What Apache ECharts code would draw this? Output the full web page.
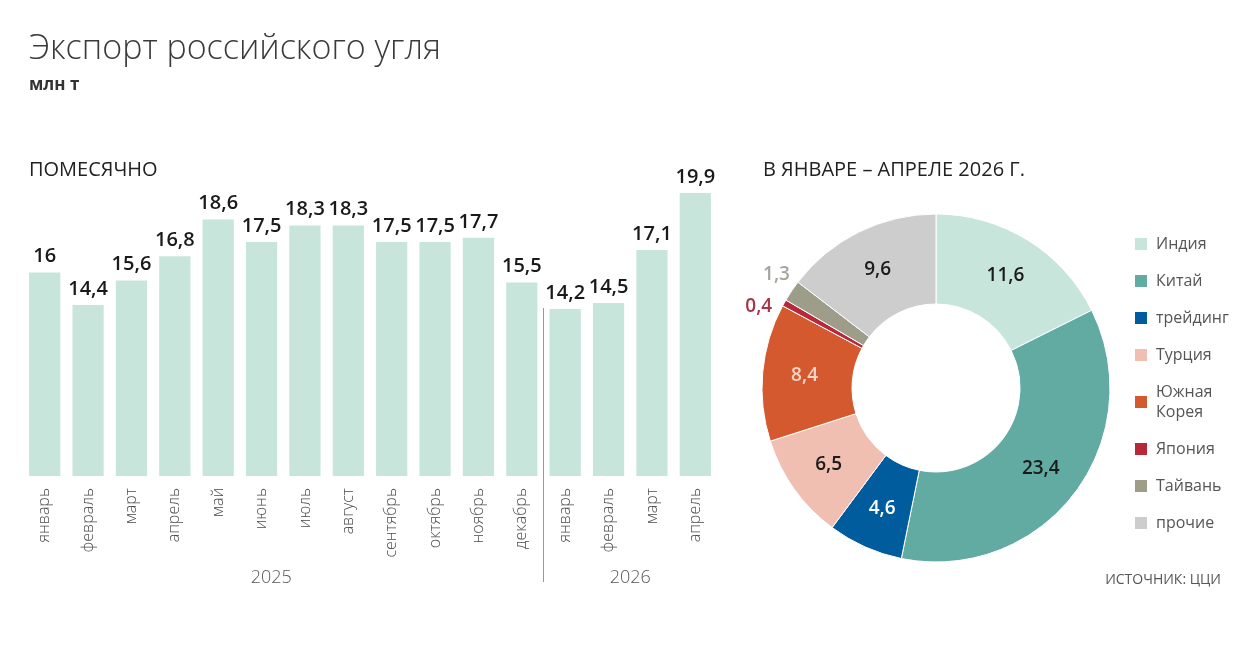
<!DOCTYPE html>
<html>
<head>
<meta charset="utf-8">
<script src="https://cdn.jsdelivr.net/npm/echarts@6/dist/echarts.min.js"></script>
<style>
  html, body { margin: 0; padding: 0; background: #fff; }
  #chart { width: 1250px; height: 650px; }
</style>
</head>
<body>
<div id="chart"></div>
<script>
// помесячный экспорт, млн т
const months = ['январь', 'февраль', 'март', 'апрель', 'май', 'июнь', 'июль', 'август',
  'сентябрь', 'октябрь', 'ноябрь', 'декабрь', 'январь', 'февраль', 'март', 'апрель']
const monthly = [16, 14.4, 15.6, 16.8, 18.6, 17.5, 18.3, 18.3, 17.5, 17.5, 17.7, 15.5, 14.2, 14.5, 17.1, 19.9]
const years = ['2025', '2026']

// структура по направлениям, январь-апрель 2026
const countries = ['Индия', 'Китай', 'трейдинг', 'Турция', 'Южная\nКорея', 'Япония', 'Тайвань', 'прочие']
const shares = [11.6, 23.4, 4.6, 6.5, 8.4, 0.4, 1.3, 9.6]
const colors = ['#c8e5db', '#62aba2', '#005c9c', '#f1beb2', '#d4592f', '#b7283a', '#9d9d89', '#cdcdcd']
const labelColors = ['#1a1a1a', '#1a1a1a', '#ffffff', '#1a1a1a', '#f7d6c8', '#a8344a', '#a5a5a0', '#1a1a1a']

const fmt = v => String(v).replace('.', ',')
const font = '"Open Sans", "Noto Sans", sans-serif'

let chart = echarts.init(document.getElementById('chart'))

let pieData = countries.map((name, i) => {
    let item = {
        name: name,
        value: shares[i],
        itemStyle: { color: colors[i] },
        label: { color: labelColors[i] }
    }
    if (shares[i] < 2) {
        item.label.position = 'outside'
    }
    return item
})

chart.setOption({
    textStyle: { fontFamily: font },
    title: [
        {
            text: 'Экспорт российского угля',
            left: 24, top: 27,
            textStyle: { fontSize: 34, fontWeight: 300, color: '#3a3a3a', fontFamily: font }
        },
        {
            text: 'млн т',
            left: 24, top: 72,
            textStyle: { fontSize: 17, fontWeight: 'bold', color: '#333', fontFamily: font }
        },
        {
            text: 'ПОМЕСЯЧНО',
            left: 24, top: 155,
            textStyle: { fontSize: 20, fontWeight: 500, color: '#222', fontFamily: font }
        },
        {
            text: 'В ЯНВАРЕ – АПРЕЛЕ 2026 Г.',
            left: 758, top: 155,
            textStyle: { fontSize: 20, fontWeight: 500, color: '#222', fontFamily: font }
        },
        {
            text: 'ИСТОЧНИК: ЦЦИ',
            right: 24, top: 568,
            textStyle: { fontSize: 14, fontWeight: 'normal', color: '#555', fontFamily: font }
        }
    ],
    grid: { left: 23, width: 694, top: 191, height: 285 },
    xAxis: {
        type: 'category',
        data: months,
        axisLine: { show: false },
        axisTick: { show: false },
        axisLabel: {
            rotate: 90,
            interval: 0,
            margin: 12,
            fontSize: 16,
            fontWeight: 300,
            color: '#4a4a4a',
            fontFamily: font
        }
    },
    yAxis: {
        type: 'value',
        min: 6,
        max: 20,
        show: false
    },
    legend: {
        orient: 'vertical',
        left: 1128,
        top: 229,
        icon: 'rect',
        itemWidth: 14,
        itemHeight: 14,
        itemGap: 17,
        selectedMode: false,
        textStyle: { fontSize: 16, color: '#555', fontFamily: font, lineHeight: 20, padding: [0, 0, 0, 3] },
        data: countries
    },
    series: [
        {
            type: 'bar',
            data: monthly,
            barCategoryGap: '28%',
            itemStyle: { color: '#c8e5db' },
            label: {
                show: true,
                position: 'top',
                distance: 6,
                formatter: p => fmt(p.value),
                fontSize: 20,
                fontWeight: 600,
                color: '#1a1a1a',
                fontFamily: font
            }
        },
        {
            type: 'pie',
            center: [936, 388],
            radius: [84, 174],
            startAngle: 90,
            clockwise: true,
            avoidLabelOverlap: false,
            itemStyle: { borderColor: '#fff', borderWidth: 1 },
            label: {
                show: true,
                position: 'inside',
                formatter: p => fmt(p.value),
                fontSize: 19,
                fontWeight: 600,
                fontFamily: font
            },
            labelLine: { show: false, length: 8, length2: 0 },
            labelLayout: function (params) {
                // мелкие доли: развести подписи как в оригинале
                if (params.dataIndex === 6) return { hideOverlap: false, dy: -6, dx: 5 }
                if (params.dataIndex === 5) return { hideOverlap: false, dy: 4, dx: 0 }
                return { hideOverlap: false }
            },
            emphasis: { disabled: true },
            data: pieData
        }
    ]
})

// разделитель годов и подписи годов
let decX = chart.convertToPixel({ xAxisIndex: 0 }, 11)
let janX = chart.convertToPixel({ xAxisIndex: 0 }, 12)
let firstX = chart.convertToPixel({ xAxisIndex: 0 }, 0)
let lastX = chart.convertToPixel({ xAxisIndex: 0 }, 15)
let sepX = (decX + janX) / 2

chart.setOption({
    graphic: [
        {
            type: 'line',
            shape: { x1: sepX, y1: 308, x2: sepX, y2: 582 },
            style: { stroke: '#999', lineWidth: 1 }
        },
        {
            type: 'text',
            x: (firstX + decX) / 2 - 12, y: 578,
            style: { text: years[0], fill: '#555', fontSize: 18, fontWeight: 300, fontFamily: font, align: 'center', verticalAlign: 'middle' }
        },
        {
            type: 'text',
            x: (janX + lastX) / 2, y: 578,
            style: { text: years[1], fill: '#555', fontSize: 18, fontWeight: 300, fontFamily: font, align: 'center', verticalAlign: 'middle' }
        }
    ]
})
</script>
</body>
</html>
